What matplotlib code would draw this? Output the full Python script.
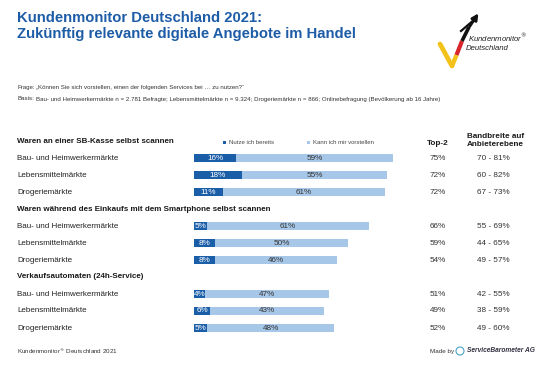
import matplotlib.pyplot as plt
from matplotlib.transforms import blended_transform_factory
import numpy as np

plt.rcParams["font.family"] = ["Liberation Sans", "DejaVu Sans"]

sections = [
    "Waren an einer SB-Kasse selbst scannen",
    "Waren während des Einkaufs mit dem Smartphone selbst scannen",
    "Verkaufsautomaten (24h-Service)",
]
markets = ["Bau- und Heimwerkermärkte", "Lebensmittelmärkte", "Drogeriemärkte"]
nutze = [16, 18, 11, 5, 8, 8, 4, 6, 5]
vorstellen = [59, 55, 61, 61, 50, 46, 47, 43, 48]
top2 = ["75%", "72%", "72%", "66%", "59%", "54%", "51%", "49%", "52%"]
bandbreite = ["70 - 81%", "60 - 82%", "67 - 73%", "55 - 69%", "44 - 65%",
              "49 - 57%", "42 - 55%", "38 - 59%", "49 - 60%"]

DARK = "#1b5ea8"
LIGHT = "#a7c7e9"
TITLE = "#1d5ca6"
W, H = 550, 369

fig = plt.figure(figsize=(5.5, 3.69), dpi=100)
fig.patch.set_facecolor("white")

def px(x, y):
    return x / W, 1 - y / H

# title block
fig.text(*px(17, 11), "Kundenmonitor Deutschland 2021:\nZukünftig relevante digitale Angebote im Handel",
         color=TITLE, fontsize=10.7, fontweight="bold", va="top", ha="left", linespacing=1.2)
fig.text(*px(17, 88), "Frage:", fontsize=4.45, color="#333333", va="center")
fig.text(*px(36, 88), "„Können Sie sich vorstellen, einen der folgenden Services bei … zu nutzen?“",
         fontsize=4.45, color="#333333", va="center")
fig.text(*px(17, 99), "Basis:", fontsize=4.45, color="#333333", va="center")
fig.text(*px(36, 99), "Bau- und Heimwerkermärkte n = 2.781 Befragte; Lebensmittelmärkte n = 9.324; "
         "Drogeriemärkte n = 866; Onlinebefragung (Bevölkerung ab 16 Jahre)",
         fontsize=4.45, color="#333333", va="center")

# logo
lax = fig.add_axes([0, 0, 1, 1], zorder=-1)
lax.set_xlim(0, W)
lax.set_ylim(H, 0)
lax.axis("off")
lax.plot([440, 452], [44, 66], color="#f2c21b", lw=3.4, solid_capstyle="round")
lax.plot([452, 456.5], [66, 55], color="#f2c21b", lw=3.2, solid_capstyle="butt")
lax.plot([456.5, 462], [55, 41], color="#d8262b", lw=3.0, solid_capstyle="butt")
lax.plot([462, 469], [41, 27], color="#111111", lw=2.6, solid_capstyle="butt")
lax.annotate("", xy=(480, 11), xytext=(468, 29),
             arrowprops=dict(arrowstyle="-|>", color="#111111", lw=2.0, mutation_scale=9))
lax.plot([461, 475], [31, 19], color="#111111", lw=1.6)
fig.text(*px(468, 38), "Kundenmonitor$^®$", fontsize=5.6, style="italic", color="#222222", va="center")
fig.text(*px(466, 48), "Deutschland", fontsize=5.6, style="italic", color="#222222", va="center")

# bar axes: slot i -> pixel y 141 + 17*i
rows = []
slot = 0
for s in range(len(sections)):
    rows.append(("head", sections[s], slot))
    slot += 1
    for m in markets:
        rows.append(("bar", m, slot))
        slot += 1

top_px, bot_px = 141 - 8.5, 141 + 17 * 11 + 8.5
ax = fig.add_axes([194 / W, 1 - bot_px / H, 265 / W, (bot_px - top_px) / H])
ax.set_xlim(0, 100)
ax.set_ylim(11.5, -0.5)
ax.axis("off")

bar_slots = [r[2] for r in rows if r[0] == "bar"]
h1 = ax.barh(bar_slots, nutze, height=0.5, color=DARK, label="Nutze ich bereits")
h2 = ax.barh(bar_slots, vorstellen, left=nutze, height=0.5, color=LIGHT, label="Kann ich mir vorstellen")

tr = blended_transform_factory(fig.transFigure, ax.transData)
for kind, text, y in rows:
    if kind == "head":
        ax.text(17 / W, y, text, transform=tr, fontsize=5.75, fontweight="bold",
                color="#1a1a1a", va="center")
    else:
        ax.text(17 / W, y, text, transform=tr, fontsize=5.8, color="#222222", va="center")

for i, y in enumerate(bar_slots):
    ax.text(nutze[i] / 2, y, f"{nutze[i]}%", color="white", fontsize=5.9,
            ha="center", va="center")
    ax.text(nutze[i] + vorstellen[i] / 2, y, f"{vorstellen[i]}%", color="#333333",
            fontsize=5.9, ha="center", va="center")
    ax.text(438 / W, y, top2[i], transform=tr, fontsize=5.9, color="#333333",
            ha="center", va="center")
    ax.text(493 / W, y, bandbreite[i], transform=tr, fontsize=5.9, color="#333333",
            ha="center", va="center")

ax.text(438 / W, 0.12, "Top-2", transform=tr, fontsize=5.9, fontweight="bold",
        color="#1a1a1a", ha="center", va="center")
ax.text(467 / W, -0.05, "Bandbreite auf\nAnbieterebene", transform=tr, fontsize=5.9,
        fontweight="bold", color="#1a1a1a", ha="left", va="center", linespacing=1.15)

ax.legend(handles=[h1, h2], ncol=2, frameon=False, fontsize=4.3,
          handlelength=0.5, handleheight=0.5, handletextpad=0.4, columnspacing=5.6,
          loc="center left", bbox_to_anchor=(218 / W, 1 - 143 / H),
          bbox_transform=fig.transFigure, labelcolor="#444444")

# footer
fig.text(*px(17, 351), "Kundenmonitor$^®$ Deutschland 2021", fontsize=4.5, color="#333333", va="center")
fig.text(*px(430, 351), "Made by", fontsize=4.5, color="#333333", va="center")
lax.add_patch(plt.Circle((460, 351), 4, fill=False, ec="#4aa3c9", lw=0.8))
fig.text(*px(467, 351), "ServiceBarometer AG", fontsize=4.8, fontweight="bold",
         style="italic", color="#333344", va="center")

fig.savefig("out.png", dpi=100, facecolor="white")
